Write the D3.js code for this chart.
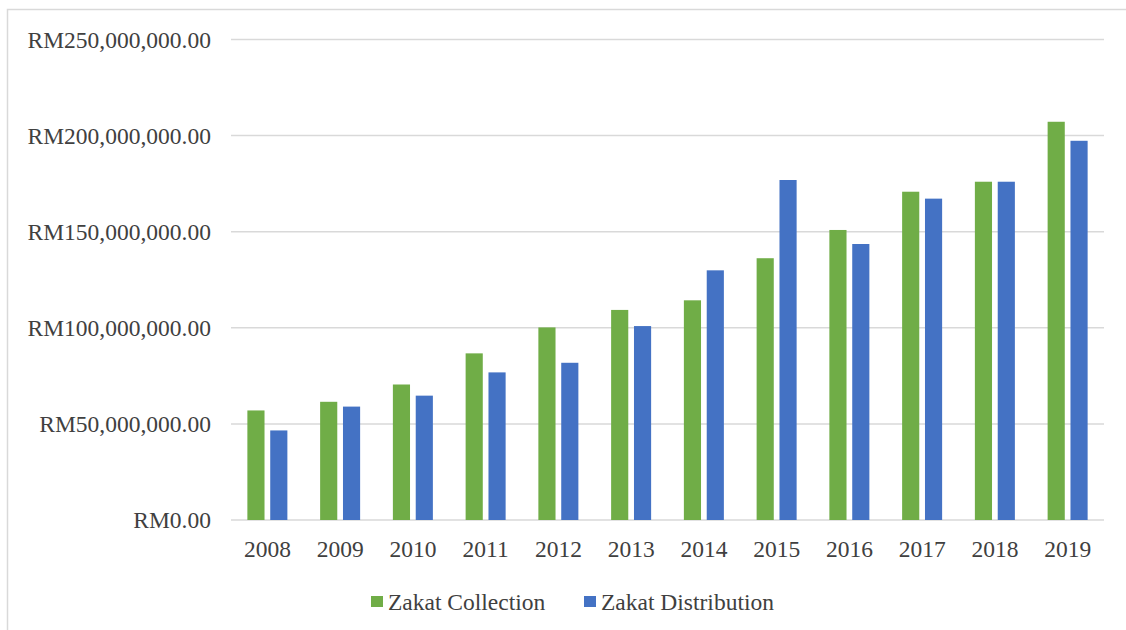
<!DOCTYPE html>
<html><head><meta charset="utf-8">
<script src="https://cdn.jsdelivr.net/npm/d3@7"></script>
<style>body{margin:0;background:#fff;}svg{display:block;}</style>
</head><body>
<svg id="chart" width="1126" height="630"></svg>
<script>
const years = ["2008","2009","2010","2011","2012","2013","2014","2015","2016","2017","2018","2019"];
const seriesNames = ["Zakat Collection","Zakat Distribution"];
const collection = [57.0e6,61.5e6,70.5e6,86.7e6,100.2e6,109.3e6,114.3e6,136.2e6,150.9e6,170.8e6,176.0e6,207.2e6];
const distribution = [46.6e6,59.0e6,64.7e6,76.8e6,81.8e6,100.9e6,129.9e6,176.9e6,143.6e6,167.2e6,176.0e6,197.3e6];
const yTicks = [0,50e6,100e6,150e6,200e6,250e6];
const colors = ["#70AD47","#4472C4"];

const svg = d3.select("#chart");
const font = "'Liberation Serif','Times New Roman',serif";
const textColor = "#404040";

// chart border
svg.append("rect").attr("x",7.5).attr("y",9.5).attr("width",1130).attr("height",640)
  .attr("fill","#fff").attr("stroke","#d9d9d9").attr("stroke-width",1.5);

const x = d3.scaleBand().domain(years).range([231,1104]);
const y = d3.scaleLinear().domain([0,250e6]).range([520,39.5]);

// gridlines
svg.append("g").selectAll("line").data(yTicks).join("line")
  .attr("x1",231).attr("x2",1104)
  .attr("y1",d=>y(d)).attr("y2",d=>y(d))
  .attr("stroke","#d9d9d9").attr("stroke-width",1.5);

// y labels
const fmt = d => "RM" + d3.format(",.2f")(d);
svg.append("g").selectAll("text").data(yTicks).join("text")
  .attr("x",211).attr("y",d=>y(d)+8)
  .attr("text-anchor","end")
  .attr("font-family",font).attr("font-size",23.5).attr("fill",textColor)
  .text(fmt);

// bars
const inner = d3.scaleBand().domain([0,1]).range([-20,20]).paddingInner(0.25);
const groups = svg.append("g").selectAll("g").data(years).join("g")
  .attr("transform",d=>`translate(${x(d)+x.bandwidth()/2},0)`);
groups.selectAll("rect").data((d,i)=>[collection[i],distribution[i]]).join("rect")
  .attr("x",(d,j)=>inner(j)).attr("width",inner.bandwidth())
  .attr("y",d=>y(d)).attr("height",d=>y(0)-y(d))
  .attr("fill",(d,j)=>colors[j]);

// x labels
svg.append("g").selectAll("text").data(years).join("text")
  .attr("x",d=>x(d)+x.bandwidth()/2).attr("y",557)
  .attr("text-anchor","middle")
  .attr("font-family",font).attr("font-size",23.5).attr("fill",textColor)
  .text(d=>d);

// legend
const legendX = [371,584];
const leg = svg.append("g").selectAll("g").data(seriesNames).join("g")
  .attr("transform",(d,i)=>`translate(${legendX[i]},0)`);
leg.append("rect").attr("x",0).attr("y",596).attr("width",12).attr("height",11)
  .attr("fill",(d,i)=>colors[i]);
leg.append("text").attr("x",17).attr("y",610)
  .attr("font-family",font).attr("font-size",23.5).attr("fill",textColor)
  .text(d=>d);
</script>
</body></html>
